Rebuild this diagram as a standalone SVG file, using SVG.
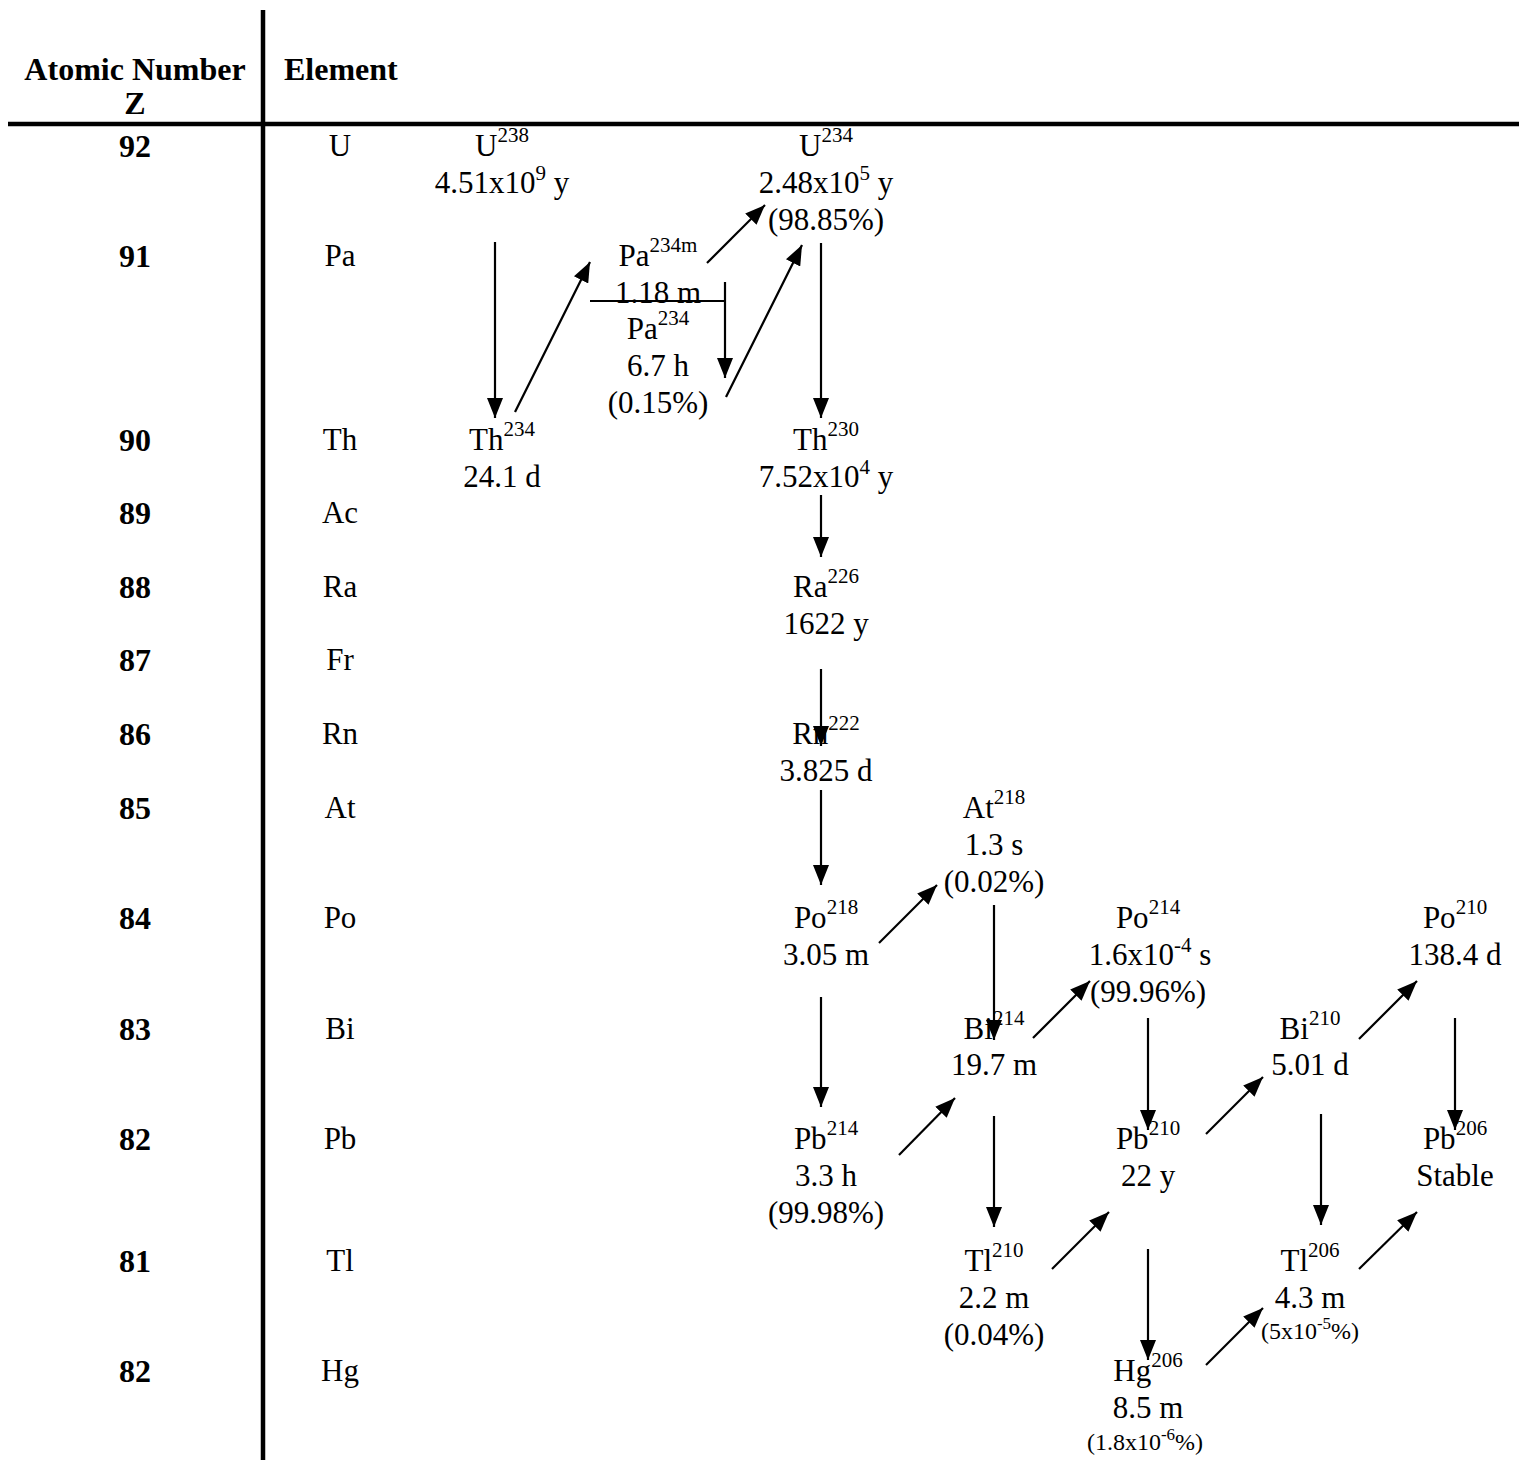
<svg xmlns="http://www.w3.org/2000/svg" width="1519" height="1460" viewBox="0 0 1519 1460">
<defs>
<marker id="ah" markerUnits="userSpaceOnUse" markerWidth="22" markerHeight="16" refX="20" refY="8" orient="auto">
<path d="M0,0 L20,8 L0,16 Z" fill="#000"/>
</marker>
<style>
text{font-family:"Liberation Serif","Times New Roman",serif;font-size:31px;fill:#000;text-anchor:middle}
.b{font-weight:bold;font-size:32px}
.s{font-size:21px}
.sm{font-size:24px}
.ss{font-size:17px}
.c line{stroke:#000;stroke-width:2.2;marker-end:url(#ah)}
.grid{stroke:#000;stroke-width:4.5}
</style>
</defs>
<rect width="1519" height="1460" fill="#fff"/>
<g id="table">
<line class="grid" x1="263" y1="10" x2="263" y2="1460"/>
<line class="grid" x1="8" y1="124" x2="1519" y2="124"/>
<text class="b" x="135" y="80">Atomic Number</text>
<text class="b" x="135" y="114">Z</text>
<text class="b" x="284" y="80" style="text-anchor:start">Element</text>
<text class="b" x="135" y="157">92</text><text x="340" y="156">U</text>
<text class="b" x="135" y="267">91</text><text x="340" y="266">Pa</text>
<text class="b" x="135" y="451">90</text><text x="340" y="450">Th</text>
<text class="b" x="135" y="524">89</text><text x="340" y="523">Ac</text>
<text class="b" x="135" y="598">88</text><text x="340" y="597">Ra</text>
<text class="b" x="135" y="671">87</text><text x="340" y="670">Fr</text>
<text class="b" x="135" y="745">86</text><text x="340" y="744">Rn</text>
<text class="b" x="135" y="819">85</text><text x="340" y="818">At</text>
<text class="b" x="135" y="929">84</text><text x="340" y="928">Po</text>
<text class="b" x="135" y="1040">83</text><text x="340" y="1039">Bi</text>
<text class="b" x="135" y="1150">82</text><text x="340" y="1149">Pb</text>
<text class="b" x="135" y="1272">81</text><text x="340" y="1271">Tl</text>
<text class="b" x="135" y="1382">82</text><text x="340" y="1381">Hg</text>
</g>
<g id="U238"><text x="502" y="156">U<tspan class="s" dy="-14">238</tspan></text><text x="502" y="193">4.51x10<tspan class="s" dy="-13">9</tspan><tspan dy="13"> y</tspan></text></g>
<g id="Th234"><text x="502" y="450">Th<tspan class="s" dy="-14">234</tspan></text><text x="502" y="487">24.1 d</text></g>
<g id="Pa234m"><text x="658" y="266">Pa<tspan class="s" dy="-14">234m</tspan></text><text x="658" y="303">1.18 m</text></g>
<g id="Pa234"><text x="658" y="339">Pa<tspan class="s" dy="-14">234</tspan></text><text x="658" y="376">6.7 h</text><text x="658" y="413">(0.15%)</text></g>
<g id="U234"><text x="826" y="156">U<tspan class="s" dy="-14">234</tspan></text><text x="826" y="193">2.48x10<tspan class="s" dy="-13">5</tspan><tspan dy="13"> y</tspan></text><text x="826" y="230">(98.85%)</text></g>
<g id="Th230"><text x="826" y="450">Th<tspan class="s" dy="-14">230</tspan></text><text x="826" y="487">7.52x10<tspan class="s" dy="-13">4</tspan><tspan dy="13"> y</tspan></text></g>
<g id="Ra226"><text x="826" y="597">Ra<tspan class="s" dy="-14">226</tspan></text><text x="826" y="634">1622 y</text></g>
<g id="Rn222"><text x="826" y="744">Rn<tspan class="s" dy="-14">222</tspan></text><text x="826" y="781">3.825 d</text></g>
<g id="At218"><text x="994" y="818">At<tspan class="s" dy="-14">218</tspan></text><text x="994" y="855">1.3 s</text><text x="994" y="892">(0.02%)</text></g>
<g id="Po218"><text x="826" y="928">Po<tspan class="s" dy="-14">218</tspan></text><text x="826" y="965">3.05 m</text></g>
<g id="Po214"><text x="1148" y="928">Po<tspan class="s" dy="-14">214</tspan></text><text x="1150" y="965">1.6x10<tspan class="s" dy="-13">-4</tspan><tspan dy="13"> s</tspan></text><text x="1148" y="1002">(99.96%)</text></g>
<g id="Po210"><text x="1455" y="928">Po<tspan class="s" dy="-14">210</tspan></text><text x="1455" y="965">138.4 d</text></g>
<g id="Bi214"><text x="994" y="1039">Bi<tspan class="s" dy="-14">214</tspan></text><text x="994" y="1075">19.7 m</text></g>
<g id="Bi210"><text x="1310" y="1039">Bi<tspan class="s" dy="-14">210</tspan></text><text x="1310" y="1075">5.01 d</text></g>
<g id="Pb214"><text x="826" y="1149">Pb<tspan class="s" dy="-14">214</tspan></text><text x="826" y="1186">3.3 h</text><text x="826" y="1223">(99.98%)</text></g>
<g id="Pb210"><text x="1148" y="1149">Pb<tspan class="s" dy="-14">210</tspan></text><text x="1148" y="1186">22 y</text></g>
<g id="Pb206"><text x="1455" y="1149">Pb<tspan class="s" dy="-14">206</tspan></text><text x="1455" y="1186">Stable</text></g>
<g id="Tl210"><text x="994" y="1271">Tl<tspan class="s" dy="-14">210</tspan></text><text x="994" y="1308">2.2 m</text><text x="994" y="1345">(0.04%)</text></g>
<g id="Tl206"><text x="1310" y="1271">Tl<tspan class="s" dy="-14">206</tspan></text><text x="1310" y="1308">4.3 m</text><text class="sm" x="1310" y="1339">(5x10<tspan class="ss" dy="-10">-5</tspan><tspan dy="10">%)</tspan></text></g>
<g id="Hg206"><text x="1148" y="1381">Hg<tspan class="s" dy="-14">206</tspan></text><text x="1148" y="1418">8.5 m</text><text class="sm" x="1145" y="1450">(1.8x10<tspan class="ss" dy="-10">-6</tspan><tspan dy="10">%)</tspan></text></g>
<g id="connectors" class="c">
<line x1="495" y1="242" x2="495" y2="418"/>
<line x1="515" y1="412" x2="590" y2="262"/>
<line x1="707" y1="263" x2="765" y2="205"/>
<line x1="726" y1="397" x2="802" y2="245"/>
<line x1="590" y1="301" x2="725" y2="301" style="marker-end:none"/>
<line x1="725" y1="282" x2="725" y2="378"/>
<line x1="821" y1="243" x2="821" y2="418"/>
<line x1="821" y1="495" x2="821" y2="557"/>
<line x1="821" y1="669" x2="821" y2="746"/>
<line x1="821" y1="790" x2="821" y2="885"/>
<line x1="879" y1="943" x2="937" y2="885"/>
<line x1="994" y1="905" x2="994" y2="1040"/>
<line x1="821" y1="997" x2="821" y2="1107"/>
<line x1="899" y1="1155" x2="955" y2="1098"/>
<line x1="1033" y1="1038" x2="1090" y2="981"/>
<line x1="994" y1="1116" x2="994" y2="1227"/>
<line x1="1148" y1="1018" x2="1148" y2="1130"/>
<line x1="1052" y1="1269" x2="1109" y2="1212"/>
<line x1="1206" y1="1134" x2="1263" y2="1077"/>
<line x1="1148" y1="1249" x2="1148" y2="1360"/>
<line x1="1359" y1="1039" x2="1417" y2="981"/>
<line x1="1321" y1="1114" x2="1321" y2="1225"/>
<line x1="1455" y1="1018" x2="1455" y2="1130"/>
<line x1="1359" y1="1269" x2="1417" y2="1212"/>
<line x1="1206" y1="1365" x2="1263" y2="1308"/>
</g>
</svg>
